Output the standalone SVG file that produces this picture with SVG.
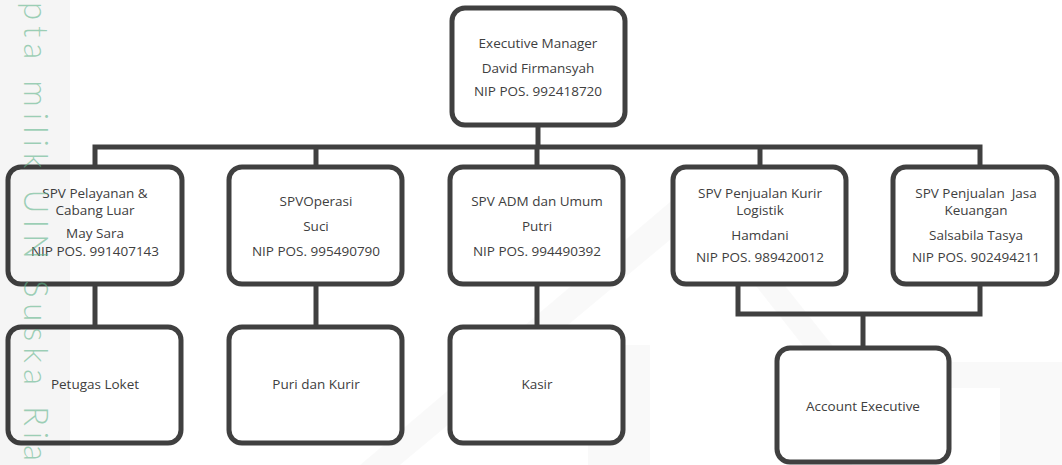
<svg xmlns="http://www.w3.org/2000/svg" width="1062" height="465" viewBox="0 0 1062 465">
<style>
.box{fill:#ffffff;stroke:#404040;stroke-width:5}
.lbl{font-family:"Open Sans","Liberation Sans",sans-serif;font-size:13.5px;fill:#404040;text-anchor:middle}
.con{fill:none;stroke:#404040;stroke-width:5;stroke-linejoin:miter}
.wm{fill:#000000;fill-opacity:0.025}
</style>
<rect width="1062" height="465" fill="#ffffff"/>
<g id="logo-watermark">
<polygon class="wm" points="360,465 400,465 700,215 830,380 860,380 705,185 690,185"/>
<rect class="wm" x="810" y="362" width="252" height="26"/>
<rect class="wm" x="810" y="388" width="42" height="77"/>
<rect class="wm" x="1000" y="388" width="62" height="77"/>
<rect class="wm" x="588" y="345" width="62" height="120"/>
</g>
<g id="connectors">
<path class="con" d="M538,125 V147"/>
<path class="con" d="M95,167 V147 H980 V167"/>
<path class="con" d="M316,147 V167"/>
<path class="con" d="M537,147 V167"/>
<path class="con" d="M760,147 V167"/>
<path class="con" d="M95,284 V327"/>
<path class="con" d="M316,284 V327"/>
<path class="con" d="M537,284 V327"/>
<path class="con" d="M738,284 V314 H980 V284"/>
<path class="con" d="M863,314 V348"/>
</g>
<g id="n-exec">
<rect class="box" x="452" y="8" width="173" height="117" rx="13"/>
<text class="lbl" x="538" y="48">Executive Manager</text>
<text class="lbl" x="538" y="73">David Firmansyah</text>
<text class="lbl" x="538" y="96">NIP POS. 992418720</text>
</g>
<g id="n-spv1">
<rect class="box" x="8" y="167" width="174" height="117" rx="13"/>
<text class="lbl" x="95" y="198">SPV Pelayanan &amp;</text>
<text class="lbl" x="95" y="215">Cabang Luar</text>
<text class="lbl" x="95" y="238">May Sara</text>
<text class="lbl" x="95" y="256">NIP POS. 991407143</text>
</g>
<g id="n-spv2">
<rect class="box" x="229" y="167" width="173" height="117" rx="13"/>
<text class="lbl" x="316" y="206">SPVOperasi</text>
<text class="lbl" x="316" y="231">Suci</text>
<text class="lbl" x="316" y="256">NIP POS. 995490790</text>
</g>
<g id="n-spv3">
<rect class="box" x="450" y="167" width="173" height="117" rx="13"/>
<text class="lbl" x="537" y="206">SPV ADM dan Umum</text>
<text class="lbl" x="537" y="231">Putri</text>
<text class="lbl" x="537" y="256">NIP POS. 994490392</text>
</g>
<g id="n-spv4">
<rect class="box" x="673" y="167" width="173" height="117" rx="13"/>
<text class="lbl" x="760" y="198">SPV Penjualan Kurir</text>
<text class="lbl" x="760" y="215">Logistik</text>
<text class="lbl" x="760" y="240">Hamdani</text>
<text class="lbl" x="760" y="262">NIP POS. 989420012</text>
</g>
<g id="n-spv5">
<rect class="box" x="893" y="167" width="164" height="117" rx="13"/>
<text class="lbl" x="976" y="198" xml:space="preserve">SPV Penjualan  Jasa</text>
<text class="lbl" x="976" y="215">Keuangan</text>
<text class="lbl" x="976" y="240">Salsabila Tasya</text>
<text class="lbl" x="976" y="262">NIP POS. 902494211</text>
</g>
<g id="n-loket">
<rect class="box" x="8" y="327" width="173" height="116" rx="13"/>
<text class="lbl" x="95" y="389">Petugas Loket</text>
</g>
<g id="n-kurir">
<rect class="box" x="229" y="327" width="173" height="116" rx="13"/>
<text class="lbl" x="316" y="389">Puri dan Kurir</text>
</g>
<g id="n-kasir">
<rect class="box" x="450" y="327" width="173" height="116" rx="13"/>
<text class="lbl" x="537" y="389">Kasir</text>
</g>
<g id="n-ae">
<rect class="box" x="777" y="348" width="172" height="114" rx="13"/>
<text class="lbl" x="863" y="411">Account Executive</text>
</g>
<g id="side-watermark">
<rect x="0" y="0" width="70" height="465" fill="#000000" fill-opacity="0.04"/>
<text x="0" y="0" transform="translate(24,2) rotate(90)" font-family="Lato,'DejaVu Sans',sans-serif" font-weight="300" font-size="33" letter-spacing="6" fill="#5fb48a" fill-opacity="0.6">pta milik UIN Suska Ria</text>
</g>
</svg>
